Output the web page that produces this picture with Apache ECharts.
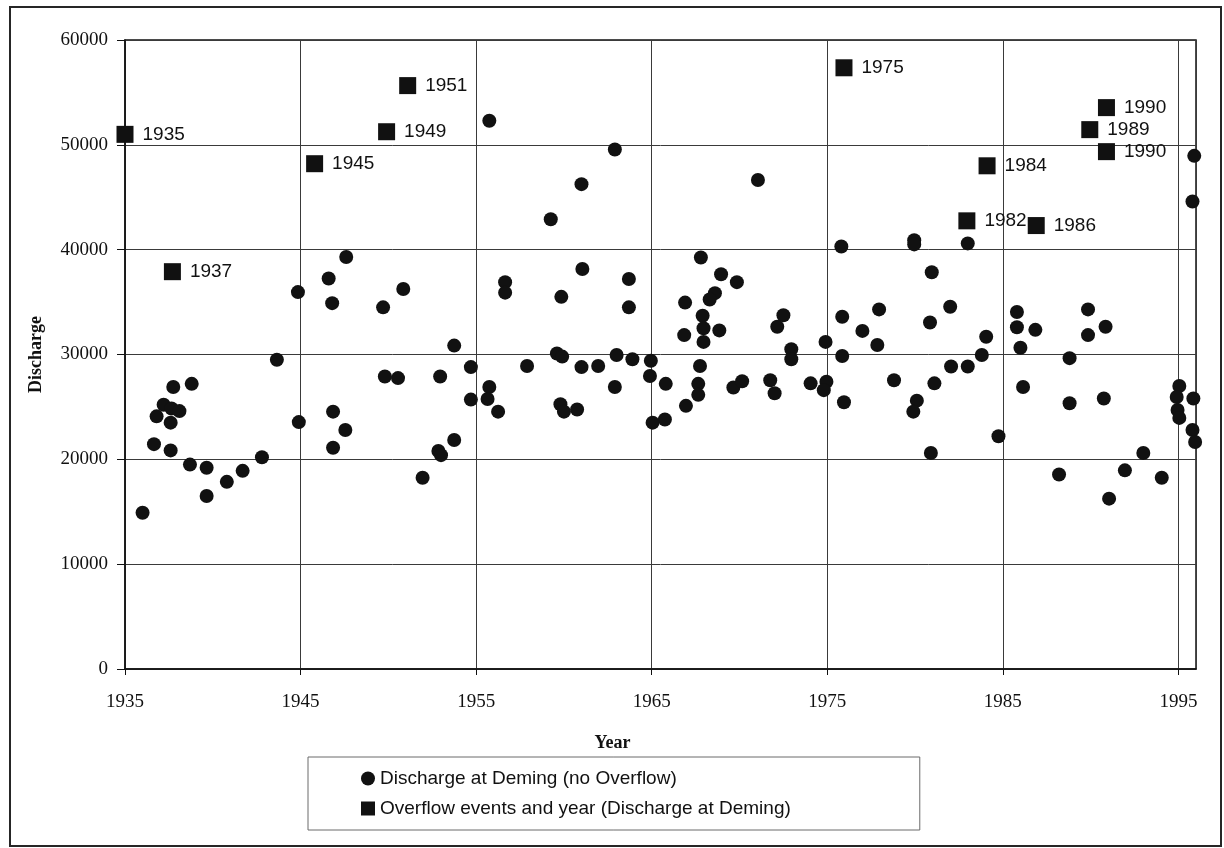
<!DOCTYPE html>
<html>
<head>
<meta charset="utf-8">
<title>Discharge at Deming</title>
<script src="https://cdn.jsdelivr.net/npm/echarts@6/dist/echarts.min.js"></script>
<style>
  html, body { margin: 0; padding: 0; background: #fff; }
  #chart { width: 1224px; height: 848px; }
</style>
</head>
<body>
<div id="chart"></div>
<script>
// Annual peak discharge at Deming, years without overflow
const circleYears = [
  1936.0, 1936.65, 1936.8, 1937.2, 1937.65, 1938.1, 1937.6, 1937.6, 1937.75, 1938.8,
  1938.7, 1939.65, 1939.65, 1940.8, 1941.7, 1942.8, 1943.65, 1944.85, 1944.9, 1946.6,
  1946.8, 1947.6, 1946.85, 1947.55, 1946.85, 1949.7, 1949.8, 1950.55, 1950.85, 1955.75,
  1962.9, 1961.0, 1959.25, 1971.05, 1967.8, 1961.05, 1963.7, 1968.95, 1969.85, 1956.65,
  1956.65, 1959.85, 1963.7, 1968.6, 1968.3, 1966.9, 1967.9, 1967.95, 1968.85, 1966.85,
  1967.95, 1972.5, 1972.15, 1972.95, 1972.95, 1953.75, 1952.95, 1954.7, 1957.9, 1959.6,
  1959.9, 1961.0, 1961.95, 1963.0, 1963.9, 1964.95, 1964.9, 1965.8, 1962.9, 1967.75,
  1967.65, 1967.65, 1966.95, 1969.65, 1970.15, 1971.75, 1972.0, 1954.7, 1955.75, 1955.65,
  1956.25, 1959.8, 1960.0, 1960.75, 1965.05, 1965.75, 1953.75, 1952.85, 1953.0, 1951.95,
  1975.8, 1979.95, 1979.95, 1983.0, 1980.95, 1977.95, 1975.85, 1982.0, 1980.85, 1977.0,
  1974.9, 1977.85, 1984.05, 1983.8, 1982.05, 1983.0, 1975.85, 1974.05, 1974.95, 1974.8,
  1975.95, 1978.8, 1981.1, 1980.1, 1979.9, 1984.75, 1980.9, 1995.9, 1995.8, 1985.8,
  1985.8, 1986.85, 1986.0, 1989.85, 1989.85, 1990.85, 1988.8, 1986.15, 1988.8, 1990.75,
  1995.05, 1994.9, 1994.95, 1995.05, 1995.85, 1995.8, 1995.95, 1993.0, 1991.95, 1994.05,
  1988.2, 1991.05
];
const circleFlows = [
  14900, 21450, 24100, 25200, 24850, 24600, 23500, 20850, 26900, 27200,
  19500, 19200, 16500, 17850, 18900, 20200, 29500, 35950, 23550, 37250,
  34900, 39300, 24550, 22800, 21100, 34500, 27900, 27750, 36250, 52300,
  49550, 46250, 42900, 46650, 39250, 38150, 37200, 37650, 36900, 36900,
  35900, 35500, 34500, 35850, 35250, 34950, 33700, 32500, 32300, 31850,
  31200, 33750, 32650, 30500, 29550, 30850, 27900, 28800, 28900, 30100,
  29800, 28800, 28900, 29950, 29550, 29400, 27950, 27200, 26900, 28900,
  27200, 26150, 25100, 26850, 27450, 27550, 26300, 25700, 26900, 25750,
  24550, 25250, 24550, 24750, 23500, 23800, 21850, 20800, 20400, 18250,
  40300, 40900, 40500, 40600, 37850, 34300, 33600, 34550, 33050, 32250,
  31200, 30900, 31700, 29950, 28850, 28850, 29850, 27250, 27400, 26600,
  25450, 27550, 27250, 25600, 24550, 22200, 20600, 48950, 44600, 34050,
  32600, 32350, 30650, 34300, 31850, 32650, 29650, 26900, 25350, 25800,
  27000, 25950, 24700, 23950, 25800, 22800, 21650, 20600, 18950, 18250,
  18550, 16250
];

// Overflow events: date (fractional year), discharge and the year shown beside each
const overflowYears  = [1935.0, 1937.7, 1945.8, 1949.9, 1951.1, 1975.95, 1982.95, 1984.1, 1986.9, 1989.95, 1990.9, 1990.9];
const overflowFlows  = [51000, 37900, 48200, 51250, 55650, 57350, 42750, 48000, 42300, 51450, 53550, 49350];
const overflowLabels = ['1935', '1937', '1945', '1949', '1951', '1975', '1982', '1984', '1986', '1989', '1990', '1990'];

const seriesNames = [
  'Discharge at Deming (no Overflow)',
  'Overflow events and year (Discharge at Deming)'
];

const serif = "'Liberation Serif', 'Times New Roman', serif";
const sans = "'Liberation Sans', Arial, sans-serif";
const ink = '#111111';

const chart = echarts.init(document.getElementById('chart'), null, { renderer: 'canvas' });

chart.setOption({
  backgroundColor: '#ffffff',
  animation: false,
  grid: {
    left: 125, top: 40, right: 28, bottom: 179,
    show: true, borderColor: ink, borderWidth: 1.5
  },
  xAxis: {
    type: 'value',
    min: 1935, max: 1996, interval: 10,
    name: 'Year',
    nameLocation: 'middle',
    nameGap: 65,
    nameTextStyle: {
      fontFamily: serif, fontWeight: 'bold', fontSize: 18, color: ink,
      padding: [0, 96, 0, 0]
    },
    axisLine: { show: true, onZero: false, lineStyle: { color: ink, width: 1.5 } },
    axisTick: { show: true, length: 6, lineStyle: { color: ink, width: 1 } },
    axisLabel: {
      fontFamily: serif, fontSize: 19, color: ink, margin: 24,
      showMaxLabel: false,
      formatter: v => String(v)
    },
    splitLine: { show: true, lineStyle: { color: '#3a3a3a', width: 1 } }
  },
  yAxis: {
    type: 'value',
    min: 0, max: 60000, interval: 10000,
    name: 'Discharge',
    nameLocation: 'middle',
    nameGap: 80,
    nameTextStyle: { fontFamily: serif, fontWeight: 'bold', fontSize: 18, color: ink },
    axisLine: { show: true, lineStyle: { color: ink, width: 1.5 } },
    axisTick: { show: true, length: 8, lineStyle: { color: ink, width: 1 } },
    axisLabel: {
      fontFamily: serif, fontSize: 19, color: ink, margin: 17,
      formatter: v => String(v)
    },
    splitLine: { show: true, lineStyle: { color: '#3a3a3a', width: 1 } }
  },
  legend: {
    orient: 'vertical',
    left: 308, top: 757,
    padding: [12, 129, 12, 53],
    itemWidth: 14, itemHeight: 14, itemGap: 11,
    borderColor: '#6a6a6a', borderWidth: 1,
    textStyle: { fontFamily: sans, fontSize: 19, color: ink },
    data: [
      { name: seriesNames[0], icon: 'circle' },
      { name: seriesNames[1], icon: 'rect' }
    ]
  },
  graphic: [
    {
      type: 'rect',
      silent: true,
      z: -1,
      shape: { x: 10, y: 7, width: 1211, height: 839 },
      style: { fill: 'none', stroke: '#262626', lineWidth: 2 }
    }
  ],
  series: [
    {
      name: seriesNames[0],
      type: 'scatter',
      symbol: 'circle',
      symbolSize: 14,
      itemStyle: { color: ink, opacity: 1 },
      emphasis: { disabled: true },
      data: circleYears.map((y, i) => [y, circleFlows[i]])
    },
    {
      name: seriesNames[1],
      type: 'scatter',
      symbol: 'rect',
      symbolSize: 17,
      itemStyle: { color: ink, opacity: 1 },
      emphasis: { disabled: true },
      label: {
        show: true,
        position: 'right',
        distance: 9,
        fontFamily: sans,
        fontSize: 19,
        color: ink,
        formatter: p => overflowLabels[p.dataIndex]
      },
      data: overflowYears.map((y, i) => [y, overflowFlows[i]])
    }
  ]
});
</script>
</body>
</html>
